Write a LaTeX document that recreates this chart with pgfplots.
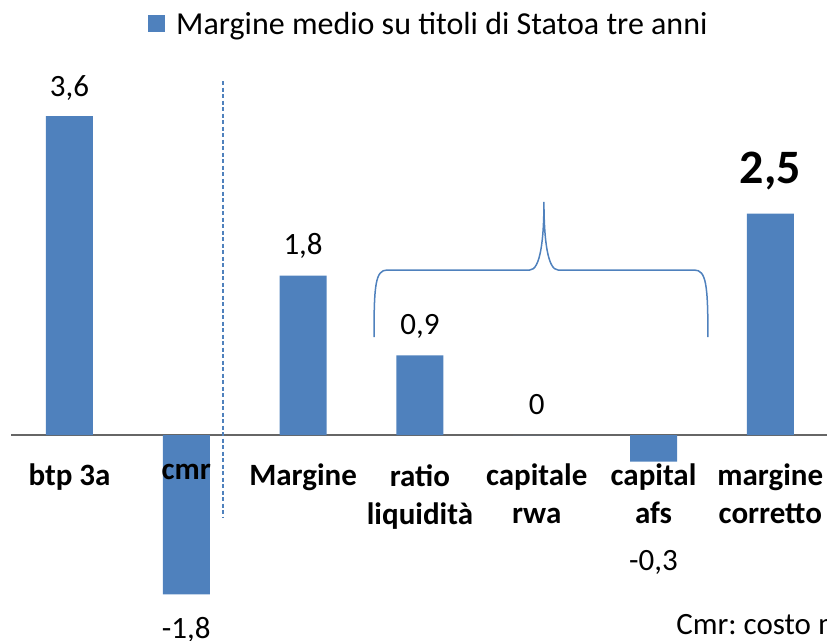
\documentclass[border=0pt]{standalone}
\usepackage{pgfplots}
\pgfplotsset{compat=1.18}
\usepackage{fontspec}
\setmainfont{Carlito}
\definecolor{barblue}{HTML}{4F81BD}
\begin{document}
\frenchspacing
\begin{tikzpicture}
\clip (0,0) rectangle (827bp,641bp);
\begin{axis}[
  at={(0,0)}, anchor=south west,
  scale only axis, width=827bp, height=641bp,
  xmin=-0.5950, xmax=6.4854, ymin=-2.325, ymax=4.910,
  axis x line=middle, axis y line=none,
  x axis line style={draw=none},
  hide obscured x ticks=false,
  axis on top,
  xtick={0,1,2,3,4,5,6}, ytick=\empty,
  major tick length=0pt,
  xticklabels={btp 3a, cmr, Margine, {ratio\\liquidità}, {capitale\\rwa}, {capital\\afs}, {margine\\corretto}},
  xticklabel style={align=center, anchor=north, inner sep=0pt, yshift=-29bp,
    font=\bfseries\fontsize{31bp}{38bp}\selectfont},
  legend style={draw=none, fill=none, at={(0.179,0.9626)}, anchor=west, inner sep=0pt,
    nodes={inner sep=0pt},
    /tikz/every odd column/.append style={column sep=11bp},
    font=\fontsize{32bp}{36bp}\selectfont, legend cell align=left},
  legend image code/.code={\fill[barblue] (0bp,-8.5bp) rectangle (17bp,8.5bp);},
  clip=false,
]
\draw[gray!80!black, line width=1.2bp] (axis cs:-0.5,0) -- (axis cs:6.6,0);
\addplot[ybar, bar width=47bp, fill=barblue, draw=none] coordinates {
  (0,3.6) (1,-1.8) (2,1.8) (3,0.9) (4,0) (5,-0.3) (6,2.5)};
\addlegendentry{Margine medio su titoli di Statoa tre anni}
\draw[barblue, dash pattern=on 4bp off 2.5bp, line width=1.5bp] (axis cs:1.314,3.995) -- (axis cs:1.314,-0.937);
\draw[barblue, line width=1.5bp]
  (axis cs:2.607,1.106) .. controls (axis cs:2.607,1.70) and (axis cs:2.62,1.862) .. (axis cs:2.72,1.862)
  -- (axis cs:3.94,1.862) .. controls (axis cs:4.03,1.862) and (axis cs:4.062,2.2) .. (axis cs:4.062,2.63)
  .. controls (axis cs:4.062,2.2) and (axis cs:4.094,1.862) .. (axis cs:4.184,1.862)
  -- (axis cs:5.35,1.862) .. controls (axis cs:5.45,1.862) and (axis cs:5.466,1.70) .. (axis cs:5.466,1.106);
\begin{scope}[every node/.style={anchor=base, inner sep=0pt, font=\fontsize{31bp}{36bp}\selectfont}]
\node at (axis cs:0,3.826) {3,6};
\node at (axis cs:1,-2.302) {-1,8};
\node at (axis cs:2,2.032) {1,8};
\node at (axis cs:3,1.129) {0,9};
\node at (axis cs:4,0.226) {0};
\node at (axis cs:5,-1.524) {-0,3};
\node[font=\bfseries\fontsize{48bp}{54bp}\selectfont] at (axis cs:6,2.844) {2,5};
\node[anchor=base west] at (axis cs:5.193,-2.257) {Cmr: costo medio raccolta};
\end{scope}
\end{axis}
\end{tikzpicture}
\end{document}
